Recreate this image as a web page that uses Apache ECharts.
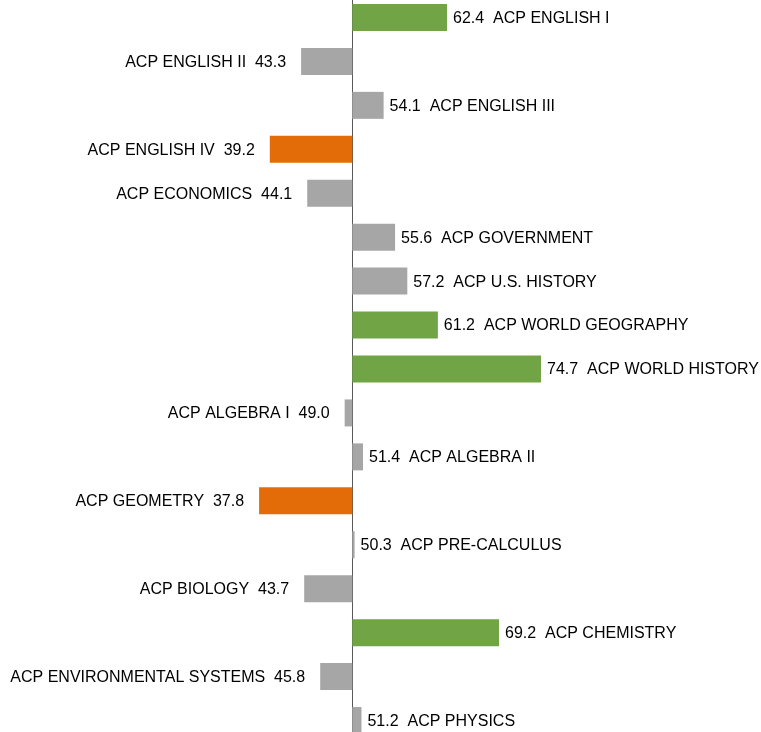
<!DOCTYPE html>
<html>
<head>
<meta charset="utf-8">
<script src="https://cdn.jsdelivr.net/npm/echarts@6/dist/echarts.min.js"></script>
<style>
  html, body { margin: 0; padding: 0; background: #fff; }
  #chart { width: 761px; height: 732px; }
</style>
</head>
<body>
<div id="chart"></div>
<script>
const courses = [
  'ACP ENGLISH I', 'ACP ENGLISH II', 'ACP ENGLISH III', 'ACP ENGLISH IV',
  'ACP ECONOMICS', 'ACP GOVERNMENT', 'ACP U.S. HISTORY', 'ACP WORLD GEOGRAPHY',
  'ACP WORLD HISTORY', 'ACP ALGEBRA I', 'ACP ALGEBRA II', 'ACP GEOMETRY',
  'ACP PRE-CALCULUS', 'ACP BIOLOGY', 'ACP CHEMISTRY', 'ACP ENVIRONMENTAL SYSTEMS',
  'ACP PHYSICS'
]
const scores = [62.4, 43.3, 54.1, 39.2, 44.1, 55.6, 57.2, 61.2, 74.7, 49.0, 51.4, 37.8, 50.3, 43.7, 69.2, 45.8, 51.2]
const baseline = 50

const colorFor = (v) => {
  if (v >= 60) return '#70a444'
  if (v < 40) return '#e36c09'
  return '#a6a6a6'
}

const chart = echarts.init(document.getElementById('chart'))
const options = {
  animation: false,
  grid: {
    top: -4.5,
    height: 747,
    left: 199.5,
    width: 382,
    containLabel: false,
    outerBoundsMode: 'none'
  },
  xAxis: {
    type: 'value',
    min: -20,
    max: 30,
    show: false
  },
  yAxis: {
    type: 'category',
    inverse: true,
    data: courses,
    axisLine: {
      onZero: true,
      lineStyle: { color: '#595959', width: 1 }
    },
    axisTick: { show: false },
    axisLabel: { show: false },
    splitLine: { show: false }
  },
  series: [{
    type: 'bar',
    barWidth: 27,
    data: scores.map((v, i) => {
      const above = v >= baseline
      return {
        value: +(v - baseline).toFixed(1),
        itemStyle: { color: colorFor(v) },
        label: {
          show: true,
          position: above ? 'right' : 'left',
          distance: above ? 6 : 15,
          offset: [0, 1],
          color: '#000',
          fontFamily: 'Liberation Sans, Arial, sans-serif',
          fontSize: 16,
          formatter: above
            ? `${v.toFixed(1)}  ${courses[i]}`
            : `${courses[i]}  ${v.toFixed(1)}`
        }
      }
    })
  }]
}
chart.setOption(options)
</script>
</body>
</html>
